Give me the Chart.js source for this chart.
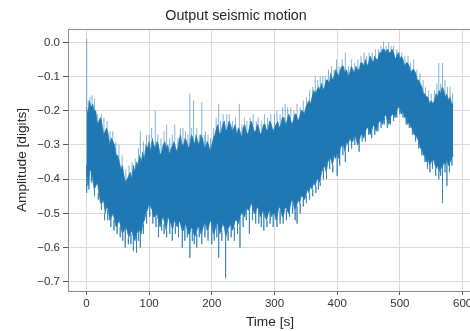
<!DOCTYPE html>
<html>
<head>
<meta charset="utf-8">
<script src="https://cdn.jsdelivr.net/npm/chart.js@4"></script>
<style>
  html, body { margin: 0; padding: 0; background: #fff; overflow: hidden; }
  #wrap { position: relative; width: 476px; height: 331px; }
</style>
</head>
<body>
<div id="wrap"><canvas id="seismic"></canvas></div>
<script>
// Min/max envelope of the trace, every 2.5 s
const times = [
  0, 2.5, 5, 7.5, 10, 12.5, 15, 17.5, 20, 22.5,
  25, 27.5, 30, 32.5, 35, 37.5, 40, 42.5, 45, 47.5,
  50, 52.5, 55, 57.5, 60, 62.5, 65, 67.5, 70, 72.5,
  75, 77.5, 80, 82.5, 85, 87.5, 90, 92.5, 95, 97.5,
  100, 102.5, 105, 107.5, 110, 112.5, 115, 117.5, 120, 122.5,
  125, 127.5, 130, 132.5, 135, 137.5, 140, 142.5, 145, 147.5,
  150, 152.5, 155, 157.5, 160, 162.5, 165, 167.5, 170, 172.5,
  175, 177.5, 180, 182.5, 185, 187.5, 190, 192.5, 195, 197.5,
  200, 202.5, 205, 207.5, 210, 212.5, 215, 217.5, 220, 222.5,
  225, 227.5, 230, 232.5, 235, 237.5, 240, 242.5, 245, 247.5,
  250, 252.5, 255, 257.5, 260, 262.5, 265, 267.5, 270, 272.5,
  275, 277.5, 280, 282.5, 285, 287.5, 290, 292.5, 295, 297.5,
  300, 302.5, 305, 307.5, 310, 312.5, 315, 317.5, 320, 322.5,
  325, 327.5, 330, 332.5, 335, 337.5, 340, 342.5, 345, 347.5,
  350, 352.5, 355, 357.5, 360, 362.5, 365, 367.5, 370, 372.5,
  375, 377.5, 380, 382.5, 385, 387.5, 390, 392.5, 395, 397.5,
  400, 402.5, 405, 407.5, 410, 412.5, 415, 417.5, 420, 422.5,
  425, 427.5, 430, 432.5, 435, 437.5, 440, 442.5, 445, 447.5,
  450, 452.5, 455, 457.5, 460, 462.5, 465, 467.5, 470, 472.5,
  475, 477.5, 480, 482.5, 485, 487.5, 490, 492.5, 495, 497.5,
  500, 502.5, 505, 507.5, 510, 512.5, 515, 517.5, 520, 522.5,
  525, 527.5, 530, 532.5, 535, 537.5, 540, 542.5, 545, 547.5,
  550, 552.5, 555, 557.5, 560, 562.5, 565, 567.5, 570, 572.5,
  575, 577.5, 580, 582.5, 585
];
const upperEnv = [
  -0.19, -0.21, -0.17, -0.19, -0.18, -0.20, -0.20, -0.24, -0.23, -0.22,
  -0.24, -0.27, -0.26, -0.25, -0.27, -0.30, -0.28, -0.29, -0.30, -0.33,
  -0.33, -0.35, -0.37, -0.36, -0.39, -0.41, -0.40, -0.39, -0.38, -0.40,
  -0.36, -0.38, -0.35, -0.36, -0.33, -0.35, -0.32, -0.34, -0.30, -0.31,
  -0.29, -0.32, -0.28, -0.30, -0.31, -0.29, -0.30, -0.33, -0.32, -0.30,
  -0.29, -0.31, -0.30, -0.33, -0.31, -0.30, -0.29, -0.31, -0.32, -0.29,
  -0.27, -0.30, -0.30, -0.28, -0.29, -0.31, -0.30, -0.27, -0.28, -0.30,
  -0.27, -0.29, -0.30, -0.27, -0.28, -0.30, -0.31, -0.29, -0.30, -0.32,
  -0.30, -0.28, -0.27, -0.25, -0.24, -0.27, -0.26, -0.24, -0.23, -0.26,
  -0.25, -0.23, -0.24, -0.26, -0.25, -0.24, -0.27, -0.25, -0.26, -0.28,
  -0.25, -0.24, -0.26, -0.27, -0.25, -0.23, -0.24, -0.26, -0.26, -0.24,
  -0.25, -0.27, -0.26, -0.24, -0.24, -0.26, -0.25, -0.23, -0.24, -0.26,
  -0.25, -0.24, -0.23, -0.25, -0.24, -0.22, -0.22, -0.24, -0.23, -0.21,
  -0.22, -0.24, -0.23, -0.21, -0.21, -0.23, -0.22, -0.20, -0.20, -0.21,
  -0.19, -0.18, -0.17, -0.18, -0.16, -0.14, -0.15, -0.14, -0.13, -0.14,
  -0.12, -0.14, -0.13, -0.11, -0.11, -0.12, -0.09, -0.11, -0.10, -0.08,
  -0.09, -0.10, -0.08, -0.07, -0.07, -0.09, -0.08, -0.10, -0.09, -0.07,
  -0.08, -0.09, -0.07, -0.08, -0.08, -0.06, -0.06, -0.07, -0.05, -0.07,
  -0.06, -0.04, -0.05, -0.06, -0.04, -0.05, -0.05, -0.03, -0.03, -0.02,
  -0.02, -0.03, -0.02, -0.03, -0.03, -0.02, -0.03, -0.05, -0.04, -0.03,
  -0.05, -0.04, -0.05, -0.07, -0.06, -0.06, -0.07, -0.09, -0.08, -0.08,
  -0.09, -0.11, -0.11, -0.12, -0.13, -0.15, -0.15, -0.16, -0.16, -0.18,
  -0.17, -0.18, -0.17, -0.15, -0.16, -0.14, -0.15, -0.13, -0.14, -0.16,
  -0.15, -0.17, -0.16, -0.18, -0.18
];
const lowerEnv = [
  -0.36, -0.42, -0.38, -0.37, -0.40, -0.43, -0.42, -0.41, -0.44, -0.47,
  -0.47, -0.46, -0.50, -0.48, -0.49, -0.52, -0.51, -0.50, -0.52, -0.54,
  -0.53, -0.52, -0.54, -0.56, -0.55, -0.54, -0.55, -0.57, -0.56, -0.55,
  -0.57, -0.58, -0.56, -0.55, -0.55, -0.56, -0.53, -0.52, -0.50, -0.49,
  -0.47, -0.48, -0.49, -0.51, -0.51, -0.50, -0.52, -0.54, -0.52, -0.51,
  -0.53, -0.55, -0.51, -0.52, -0.53, -0.55, -0.52, -0.53, -0.54, -0.52,
  -0.53, -0.55, -0.55, -0.53, -0.54, -0.56, -0.56, -0.54, -0.55, -0.57,
  -0.56, -0.54, -0.54, -0.56, -0.55, -0.53, -0.53, -0.55, -0.54, -0.52,
  -0.53, -0.56, -0.55, -0.53, -0.53, -0.56, -0.55, -0.53, -0.54, -0.57,
  -0.55, -0.54, -0.53, -0.55, -0.54, -0.52, -0.52, -0.53, -0.51, -0.50,
  -0.50, -0.51, -0.48, -0.49, -0.49, -0.47, -0.48, -0.50, -0.50, -0.48,
  -0.49, -0.51, -0.50, -0.49, -0.51, -0.52, -0.50, -0.49, -0.51, -0.50,
  -0.50, -0.52, -0.50, -0.48, -0.49, -0.51, -0.50, -0.48, -0.49, -0.50,
  -0.48, -0.46, -0.47, -0.49, -0.48, -0.46, -0.47, -0.45, -0.45, -0.46,
  -0.45, -0.43, -0.44, -0.42, -0.43, -0.41, -0.42, -0.40, -0.40, -0.41,
  -0.38, -0.37, -0.36, -0.38, -0.35, -0.34, -0.34, -0.36, -0.33, -0.34,
  -0.32, -0.34, -0.31, -0.30, -0.30, -0.32, -0.29, -0.30, -0.28, -0.29,
  -0.29, -0.27, -0.28, -0.30, -0.29, -0.27, -0.27, -0.28, -0.26, -0.25,
  -0.25, -0.27, -0.26, -0.24, -0.25, -0.26, -0.24, -0.23, -0.23, -0.24,
  -0.22, -0.21, -0.23, -0.24, -0.22, -0.21, -0.21, -0.22, -0.20, -0.19,
  -0.19, -0.21, -0.20, -0.22, -0.22, -0.24, -0.23, -0.25, -0.25, -0.27,
  -0.27, -0.28, -0.29, -0.31, -0.31, -0.33, -0.33, -0.35, -0.34, -0.36,
  -0.35, -0.34, -0.35, -0.37, -0.36, -0.38, -0.36, -0.37, -0.35, -0.36,
  -0.34, -0.36, -0.35, -0.34, -0.33
];

// Thin spikes sticking out above and below the dense band
const upSpikeTimes = [0.5, 3, 6, 9, 13, 18, 24, 28, 33, 38, 42, 47, 52, 57, 63, 68, 73, 78, 83, 86,
  91, 96, 100, 104, 110, 114, 119, 124, 128, 133, 137, 141, 146, 150, 154, 158, 162, 165, 168, 171,
  176, 180, 184, 188, 190, 194, 198, 203, 207, 211, 214, 218, 224, 228, 233, 238, 244, 248, 252, 256,
  261, 266, 271, 274, 279, 284, 289, 294, 300, 304, 309, 313, 317, 321, 326, 331, 336, 341, 346, 351,
  356, 361, 365, 369, 373, 377, 381, 386, 391, 395, 399, 403, 408, 413, 418, 423, 428, 433, 438, 443,
  447, 451, 456, 461, 466, 470, 474, 478, 482, 486, 490, 495, 499, 503, 508, 513, 517, 522, 527, 532,
  537, 541, 546, 550, 555, 559, 562, 565, 568, 572, 576, 580, 584];
const upSpikePeaks = [0.01, -0.17, -0.16, -0.155, -0.165, -0.21, -0.21, -0.22, -0.23, -0.26, -0.26, -0.29, -0.30, -0.33, -0.37, -0.36, -0.35, -0.34, -0.31, -0.26,
  -0.29, -0.27, -0.27, -0.25, -0.20, -0.27, -0.28, -0.26, -0.24, -0.28, -0.27, -0.24, -0.28, -0.25, -0.25, -0.26, -0.27, -0.15, -0.25, -0.17,
  -0.25, -0.27, -0.175, -0.27, -0.26, -0.27, -0.28, -0.25, -0.22, -0.18, -0.23, -0.21, -0.21, -0.21, -0.23, -0.22, -0.18, -0.24, -0.22, -0.23,
  -0.22, -0.21, -0.23, -0.22, -0.23, -0.21, -0.22, -0.21, -0.21, -0.20, -0.21, -0.19, -0.18, -0.19, -0.19, -0.20, -0.18, -0.19, -0.17, -0.16,
  -0.14, -0.13, -0.10, -0.11, -0.10, -0.10, -0.10, -0.08, -0.07, -0.08, -0.05, -0.07, -0.05, -0.03, -0.07, -0.05, -0.06, -0.05, -0.04, -0.03,
  -0.04, -0.03, -0.03, -0.02, -0.02, -0.01, 0.003, -0.01, 0.0, -0.01, -0.01, -0.02, -0.03, -0.03, -0.04, -0.04, -0.06, -0.05, -0.08, -0.09,
  -0.11, -0.13, -0.14, -0.15, -0.14, -0.12, -0.06, -0.12, -0.06, -0.11, -0.13, -0.13, -0.15];
const downSpikeTimes = [0.5, 4, 8, 13, 19, 24, 29, 34, 39, 44, 49, 54, 58, 62, 67, 71, 75, 80, 83, 86,
  91, 96, 101, 106, 111, 115, 120, 124, 128, 133, 137, 142, 147, 153, 157, 161, 165, 169, 172, 176,
  180, 184, 189, 194, 200, 204, 208, 211, 216, 222, 226, 231, 236, 241, 245, 250, 255, 260, 265, 270,
  275, 279, 283, 288, 293, 298, 304, 309, 314, 319, 324, 329, 333, 336, 341, 346, 351, 356, 361, 366,
  370, 373, 378, 383, 388, 393, 400, 404, 409, 413, 418, 423, 428, 435, 440, 445, 450, 455, 460, 465,
  470, 475, 480, 485, 490, 495, 500, 505, 510, 515, 520, 525, 530, 535, 540, 544, 548, 552, 557, 562,
  565, 568, 572, 575, 579, 583];
const downSpikeTips = [-0.44, -0.43, -0.41, -0.45, -0.46, -0.49, -0.52, -0.52, -0.54, -0.55, -0.56, -0.57, -0.58, -0.60, -0.59, -0.59, -0.61, -0.615, -0.58, -0.60,
  -0.56, -0.53, -0.51, -0.53, -0.54, -0.57, -0.55, -0.56, -0.57, -0.56, -0.58, -0.56, -0.57, -0.60, -0.58, -0.57, -0.63, -0.58, -0.59, -0.60,
  -0.57, -0.59, -0.57, -0.58, -0.59, -0.58, -0.57, -0.63, -0.58, -0.69, -0.58, -0.57, -0.58, -0.56, -0.60, -0.54, -0.52, -0.56, -0.52, -0.53,
  -0.53, -0.54, -0.55, -0.54, -0.53, -0.54, -0.54, -0.53, -0.53, -0.52, -0.51, -0.50, -0.52, -0.53, -0.50, -0.48, -0.47, -0.46, -0.45, -0.44,
  -0.43, -0.42, -0.40, -0.40, -0.37, -0.38, -0.39, -0.36, -0.33, -0.35, -0.32, -0.31, -0.30, -0.32, -0.29, -0.29, -0.27, -0.28, -0.27, -0.26,
  -0.25, -0.24, -0.25, -0.24, -0.23, -0.22, -0.21, -0.22, -0.24, -0.25, -0.27, -0.29, -0.31, -0.33, -0.35, -0.37, -0.38, -0.37, -0.39, -0.40,
  -0.39, -0.47, -0.38, -0.42, -0.38, -0.36];

const xTicks = [0, 100, 200, 300, 400, 500, 600];
const yTicks = [0.0, -0.1, -0.2, -0.3, -0.4, -0.5, -0.6, -0.7];

const LINE = '#1f77b4';
const FONT = '"Liberation Sans", Arial, sans-serif';

function nearestIndex(t) {
  let best = 0;
  times.forEach((v, i) => { if (Math.abs(v - t) < Math.abs(times[best] - t)) best = i; });
  return best;
}

// each spike: from the band edge out to its tip, then a gap
function spikeSegments(ts, tips, env) {
  const pts = [];
  ts.forEach((t, i) => {
    pts.push({ x: t, y: env[nearestIndex(t)] });
    pts.push({ x: t, y: tips[i] });
    pts.push({ x: t, y: null });
  });
  return pts;
}

const frame = {
  id: 'frame',
  afterDraw(chart) {
    const { ctx, chartArea: a } = chart;
    ctx.save();
    ctx.strokeStyle = '#8c8c8c';
    ctx.lineWidth = 1;
    ctx.strokeRect(Math.round(a.left) + 0.5, Math.round(a.top) + 0.5, a.right - a.left, a.bottom - a.top);
    ctx.restore();
  }
};

new Chart(document.getElementById('seismic'), {
  type: 'scatter',
  data: {
    datasets: [
      {
        data: times.map((t, i) => ({ x: t, y: upperEnv[i] })),
        showLine: true, borderColor: 'rgba(31,119,180,0.7)', borderWidth: 1,
        pointRadius: 0, fill: false, tension: 0,
      },
      {
        data: times.map((t, i) => ({ x: t, y: lowerEnv[i] })),
        showLine: true, borderColor: 'rgba(31,119,180,0.7)', borderWidth: 1,
        pointRadius: 0, fill: '-1', backgroundColor: LINE, tension: 0,
      },
      {
        data: spikeSegments(upSpikeTimes, upSpikePeaks, upperEnv),
        showLine: true, spanGaps: false, borderColor: 'rgba(31,119,180,0.55)', borderWidth: 1,
        pointRadius: 0,
      },
      {
        data: spikeSegments(downSpikeTimes, downSpikeTips, lowerEnv),
        showLine: true, spanGaps: false, borderColor: 'rgba(31,119,180,0.55)', borderWidth: 1,
        pointRadius: 0,
      },
    ],
  },
  options: {
    responsive: true,
    maintainAspectRatio: false,
    animation: false,
    layout: { padding: { left: 0, right: 4, top: 0, bottom: 0 } },
    plugins: {
      legend: { display: false },
      tooltip: { enabled: false },
      title: {
        display: true, text: 'Output seismic motion', color: '#262626',
        font: { family: FONT, size: 14.3, weight: 'normal' },
        padding: { top: 7.5, bottom: 4.34 },
      },
    },
    scales: {
      x: {
        type: 'linear', min: -29.3, max: 615,
        afterBuildTicks(s) { s.ticks = xTicks.map(v => ({ value: v })); },
        afterFit(s) { s.height = 40; },
        grid: { color: '#dadada', lineWidth: 1, tickLength: 4, tickColor: '#555' },
        border: { display: false },
        ticks: { color: '#333', padding: 2, font: { family: FONT, size: 11.5 }, callback: v => String(v) },
        title: {
          display: true, text: 'Time [s]', color: '#262626',
          font: { family: FONT, size: 13.7 }, padding: { top: 0, bottom: 0.8 },
        },
      },
      y: {
        type: 'linear', min: -0.727, max: 0.039,
        afterBuildTicks(s) { s.ticks = yTicks.map(v => ({ value: v })); },
        afterFit(s) { s.width = 68; },
        grid: { color: '#dadada', lineWidth: 1, tickLength: 5, tickColor: '#555' },
        border: { display: false },
        ticks: {
          color: '#333', padding: 3, font: { family: FONT, size: 11.5 },
          callback: v => (v < 0 ? '\u2212' : '') + Math.abs(v).toFixed(1),
        },
        title: {
          display: true, text: 'Amplitude [digits]', color: '#262626',
          font: { family: FONT, size: 13.7 }, padding: { top: 13.8, bottom: 0 },
        },
      },
    },
  },
  plugins: [frame],
});
</script>
</body>
</html>
